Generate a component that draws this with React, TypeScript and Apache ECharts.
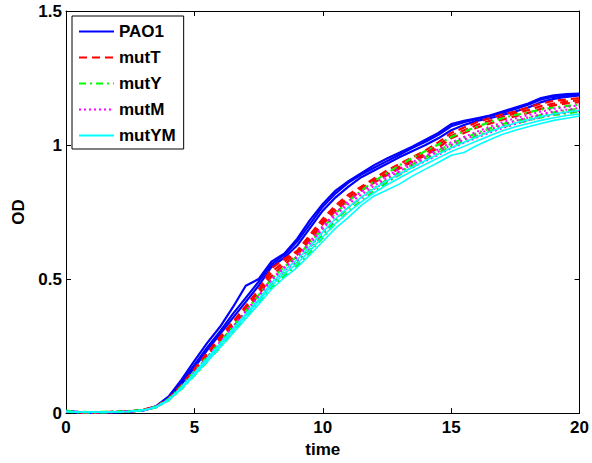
import React, { useEffect, useRef } from "react";
import * as echarts from "echarts";

const TIME = [0, 0.5, 1, 1.5, 2, 2.5, 3, 3.5, 4, 4.5, 5, 5.5, 6, 6.5, 7, 7.5, 8, 8.5, 9, 9.5, 10, 10.5, 11, 11.5, 12, 12.5, 13, 13.5, 14, 14.5, 15, 15.5, 16, 16.5, 17, 17.5, 18, 18.5, 19, 19.5, 20];

const STRAINS = ["PAO1", "mutT", "mutY", "mutM", "mutYM"];
const X_TICKS = [0, 5, 10, 15, 20];
const Y_TICKS = [0, 0.5, 1, 1.5];

const PAO1_1 = [0.008, 0.004, 0.003, 0.003, 0.004, 0.006, 0.011, 0.025, 0.062, 0.125, 0.195, 0.262, 0.322, 0.395, 0.475, 0.5, 0.565, 0.595, 0.65, 0.72, 0.78, 0.83, 0.865, 0.895, 0.925, 0.95, 0.972, 0.995, 1.02, 1.045, 1.078, 1.09, 1.1, 1.11, 1.125, 1.14, 1.155, 1.175, 1.185, 1.19, 1.192];
const PAO1_2 = [0.006, 0.003, 0.003, 0.004, 0.004, 0.006, 0.01, 0.024, 0.058, 0.115, 0.18, 0.245, 0.305, 0.37, 0.43, 0.49, 0.555, 0.59, 0.64, 0.705, 0.77, 0.82, 0.86, 0.89, 0.915, 0.94, 0.965, 0.99, 1.012, 1.038, 1.07, 1.085, 1.097, 1.108, 1.12, 1.135, 1.15, 1.17, 1.18, 1.185, 1.188];
const PAO1_3 = [0.005, 0.004, 0.002, 0.003, 0.005, 0.007, 0.01, 0.022, 0.056, 0.108, 0.17, 0.235, 0.295, 0.355, 0.415, 0.475, 0.545, 0.58, 0.625, 0.69, 0.755, 0.805, 0.845, 0.88, 0.905, 0.93, 0.955, 0.978, 1.0, 1.025, 1.055, 1.075, 1.09, 1.1, 1.112, 1.125, 1.14, 1.16, 1.172, 1.18, 1.185];

const MUTT_1 = [0.007, 0.003, 0.003, 0.004, 0.005, 0.007, 0.012, 0.025, 0.055, 0.105, 0.165, 0.225, 0.285, 0.34, 0.4, 0.46, 0.54, 0.575, 0.605, 0.665, 0.725, 0.775, 0.815, 0.845, 0.875, 0.905, 0.93, 0.955, 0.98, 1.01, 1.045, 1.065, 1.085, 1.1, 1.115, 1.125, 1.14, 1.155, 1.165, 1.17, 1.175];
const MUTT_2 = [0.005, 0.004, 0.003, 0.003, 0.004, 0.006, 0.011, 0.023, 0.052, 0.1, 0.16, 0.22, 0.278, 0.335, 0.392, 0.45, 0.525, 0.565, 0.6, 0.655, 0.715, 0.765, 0.805, 0.838, 0.868, 0.895, 0.92, 0.945, 0.97, 1.0, 1.035, 1.055, 1.075, 1.09, 1.105, 1.118, 1.13, 1.145, 1.155, 1.162, 1.168];
const MUTT_3 = [0.006, 0.003, 0.002, 0.004, 0.005, 0.006, 0.01, 0.022, 0.05, 0.097, 0.155, 0.212, 0.27, 0.325, 0.382, 0.44, 0.51, 0.555, 0.59, 0.645, 0.705, 0.755, 0.795, 0.83, 0.86, 0.888, 0.913, 0.938, 0.962, 0.99, 1.025, 1.045, 1.065, 1.08, 1.095, 1.108, 1.12, 1.135, 1.148, 1.155, 1.16];

const MUTY_1 = [0.009, 0.005, 0.003, 0.004, 0.005, 0.007, 0.011, 0.023, 0.05, 0.095, 0.148, 0.2, 0.255, 0.31, 0.365, 0.42, 0.48, 0.52, 0.56, 0.61, 0.665, 0.72, 0.765, 0.805, 0.84, 0.87, 0.9, 0.928, 0.955, 0.98, 1.005, 1.025, 1.045, 1.062, 1.078, 1.09, 1.1, 1.112, 1.122, 1.13, 1.135];
const MUTY_2 = [0.006, 0.004, 0.004, 0.005, 0.006, 0.008, 0.012, 0.024, 0.053, 0.1, 0.155, 0.21, 0.265, 0.322, 0.38, 0.44, 0.5, 0.545, 0.585, 0.635, 0.69, 0.745, 0.79, 0.83, 0.865, 0.895, 0.925, 0.952, 0.978, 1.002, 1.03, 1.05, 1.068, 1.085, 1.1, 1.112, 1.122, 1.132, 1.14, 1.145, 1.15];
const MUTY_3 = [0.005, 0.003, 0.003, 0.003, 0.005, 0.006, 0.01, 0.021, 0.048, 0.09, 0.14, 0.192, 0.245, 0.3, 0.355, 0.41, 0.47, 0.51, 0.55, 0.6, 0.655, 0.708, 0.752, 0.792, 0.828, 0.86, 0.89, 0.918, 0.945, 0.97, 0.995, 1.015, 1.035, 1.052, 1.068, 1.08, 1.092, 1.103, 1.112, 1.118, 1.125];

const MUTM_1 = [0.006, 0.004, 0.003, 0.004, 0.004, 0.006, 0.011, 0.023, 0.05, 0.095, 0.15, 0.205, 0.262, 0.318, 0.375, 0.432, 0.495, 0.54, 0.578, 0.63, 0.688, 0.738, 0.78, 0.815, 0.848, 0.876, 0.903, 0.928, 0.952, 0.975, 1.0, 1.02, 1.04, 1.058, 1.075, 1.09, 1.103, 1.115, 1.125, 1.132, 1.138];
const MUTM_2 = [0.005, 0.003, 0.003, 0.003, 0.004, 0.006, 0.01, 0.022, 0.049, 0.092, 0.145, 0.2, 0.255, 0.31, 0.366, 0.422, 0.485, 0.53, 0.568, 0.618, 0.675, 0.725, 0.768, 0.803, 0.836, 0.865, 0.892, 0.917, 0.94, 0.963, 0.988, 1.008, 1.028, 1.046, 1.063, 1.078, 1.092, 1.104, 1.115, 1.122, 1.128];
const MUTM_3 = [0.007, 0.004, 0.003, 0.004, 0.005, 0.007, 0.011, 0.024, 0.051, 0.097, 0.152, 0.208, 0.265, 0.322, 0.38, 0.438, 0.5, 0.545, 0.585, 0.64, 0.698, 0.748, 0.79, 0.825, 0.857, 0.885, 0.912, 0.937, 0.96, 0.984, 1.01, 1.03, 1.05, 1.068, 1.085, 1.1, 1.112, 1.125, 1.135, 1.142, 1.148];

const MUTYM_1 = [0.005, 0.003, 0.003, 0.003, 0.004, 0.006, 0.01, 0.021, 0.048, 0.09, 0.14, 0.192, 0.245, 0.298, 0.352, 0.405, 0.462, 0.505, 0.543, 0.59, 0.64, 0.69, 0.73, 0.775, 0.81, 0.832, 0.855, 0.885, 0.91, 0.935, 0.962, 0.972, 0.998, 1.02, 1.04, 1.055, 1.068, 1.08, 1.092, 1.1, 1.108];
const MUTYM_2 = [0.006, 0.004, 0.003, 0.004, 0.005, 0.006, 0.01, 0.022, 0.05, 0.094, 0.146, 0.2, 0.254, 0.308, 0.362, 0.416, 0.475, 0.52, 0.558, 0.606, 0.658, 0.708, 0.75, 0.788, 0.822, 0.852, 0.878, 0.904, 0.928, 0.952, 0.976, 0.995, 1.015, 1.035, 1.053, 1.068, 1.08, 1.092, 1.102, 1.11, 1.116];
const MUTYM_3 = [0.007, 0.004, 0.004, 0.004, 0.005, 0.007, 0.011, 0.023, 0.051, 0.097, 0.15, 0.205, 0.26, 0.315, 0.37, 0.425, 0.486, 0.532, 0.572, 0.622, 0.676, 0.726, 0.768, 0.805, 0.838, 0.867, 0.893, 0.918, 0.942, 0.966, 0.99, 1.01, 1.03, 1.05, 1.067, 1.082, 1.094, 1.106, 1.116, 1.123, 1.13];

const REPLICATES: Record<string, number[][]> = {
  PAO1: [PAO1_1, PAO1_2, PAO1_3],
  mutT: [MUTT_1, MUTT_2, MUTT_3],
  mutY: [MUTY_1, MUTY_2, MUTY_3],
  mutM: [MUTM_1, MUTM_2, MUTM_3],
  mutYM: [MUTYM_1, MUTYM_2, MUTYM_3],
};

const STYLES: Record<string, { color: string; width: number; type: any }> = {
  PAO1: { color: "#0000ff", width: 2.2, type: "solid" },
  mutT: { color: "#ff0000", width: 2.2, type: [8, 5] },
  mutY: { color: "#00ff00", width: 2.2, type: [7, 4, 2, 4] },
  mutM: { color: "#ff00ff", width: 2, type: [2, 3] },
  mutYM: { color: "#00ffff", width: 1.6, type: "solid" },
};

const FONT = "'Liberation Sans', Arial, Helvetica, sans-serif";

export default function App() {
  const ref = useRef<HTMLDivElement>(null);
  useEffect(() => {
    if (!ref.current) return;
    const chart = echarts.init(ref.current, undefined, { renderer: "svg" });
    const series: any[] = [];
    STRAINS.forEach((s) => {
      const st = STYLES[s];
      REPLICATES[s].forEach((vals) => {
        series.push({
          name: s,
          type: "line",
          data: TIME.map((t, i) => [t, vals[i]]),
          symbol: "none",
          showSymbol: false,
          color: st.color,
          lineStyle: { color: st.color, width: st.width, type: st.type },
          emphasis: { disabled: true },
          silent: true,
        });
      });
    });
    const labelStyle = { color: "#000", fontFamily: FONT, fontWeight: "bold", fontSize: 17 };
    const axisLine = { show: true, onZero: false, lineStyle: { color: "#000", width: 1 } };
    const tick = { show: true, inside: true, length: 5, lineStyle: { color: "#000", width: 1 } };
    chart.setOption({
      animation: false,
      backgroundColor: "#fff",
      grid: { left: 66, right: 9, top: 11, bottom: 47, containLabel: false },
      legend: {
        data: STRAINS,
        orient: "vertical",
        left: 72,
        top: 16,
        itemWidth: 35,
        itemHeight: 14,
        itemGap: 9,
        padding: [7, 8, 5, 6],
        borderColor: "#000",
        borderWidth: 1,
        backgroundColor: "#fff",
        itemStyle: { opacity: 0 },
        textStyle: labelStyle,
        selectedMode: false,
      },
      xAxis: [
        {
          type: "value",
          min: X_TICKS[0],
          max: X_TICKS[X_TICKS.length - 1],
          interval: 5,
          position: "bottom",
          axisLine,
          axisTick: tick,
          axisLabel: { ...labelStyle, margin: 6 },
          splitLine: { show: false },
          name: "time",
          nameLocation: "middle",
          nameGap: 26,
          nameTextStyle: labelStyle,
        },
        {
          type: "value",
          min: X_TICKS[0],
          max: X_TICKS[X_TICKS.length - 1],
          interval: 5,
          position: "top",
          axisLine,
          axisTick: tick,
          axisLabel: { show: false },
          splitLine: { show: false },
        },
      ],
      yAxis: [
        {
          type: "value",
          min: Y_TICKS[0],
          max: Y_TICKS[Y_TICKS.length - 1],
          interval: 0.5,
          position: "left",
          axisLine,
          axisTick: tick,
          axisLabel: { ...labelStyle, margin: 4 },
          splitLine: { show: false },
          name: "OD",
          nameLocation: "middle",
          nameGap: 33,
          nameTextStyle: labelStyle,
        },
        {
          type: "value",
          min: Y_TICKS[0],
          max: Y_TICKS[Y_TICKS.length - 1],
          interval: 0.5,
          position: "right",
          axisLine,
          axisTick: tick,
          axisLabel: { show: false },
          splitLine: { show: false },
        },
      ],
      series,
    });
    return () => chart.dispose();
  }, []);
  return (
    <div
      ref={ref}
      style={{ position: "fixed", left: 0, top: 0, width: 592, height: 463, background: "#fff" }}
    />
  );
}
